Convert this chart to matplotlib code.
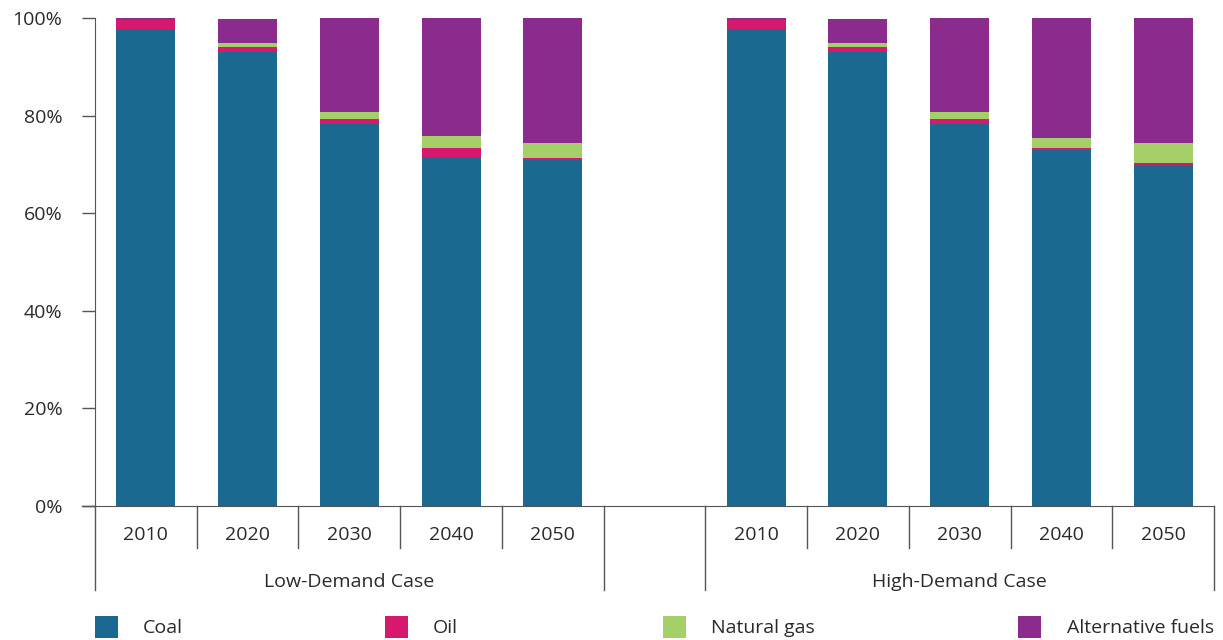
import matplotlib
matplotlib.use("Agg")
import matplotlib.pyplot as plt
import matplotlib.transforms as mtransforms
from matplotlib.patches import Rectangle
import numpy as np

plt.rcParams['font.family'] = ['Open Sans', 'DejaVu Sans']

years = ["2010", "2020", "2030", "2040", "2050"]
groups = ["Low-Demand Case", "High-Demand Case"]
series_names = ["Coal", "Oil", "Natural gas", "Alternative fuels"]
colors = ["#1b6890", "#d7186f", "#a5cf68", "#8c2b8e"]

coal_low = [97.8, 93.0, 78.3, 71.3, 70.9]
oil_low = [1.7, 1.1, 1.0, 2.1, 0.4]
gas_low = [0.0, 0.8, 1.4, 2.4, 3.1]
alt_low = [0.5, 4.9, 19.3, 24.2, 25.6]

coal_high = [97.8, 93.0, 78.3, 73.0, 69.9]
oil_high = [1.7, 1.1, 1.0, 0.4, 0.4]
gas_high = [0.0, 0.8, 1.4, 2.0, 4.1]
alt_high = [0.5, 4.9, 19.3, 24.6, 25.6]

yticks = [0, 20, 40, 60, 80, 100]

text_color = "#2a2a2a"
line_color = "#555555"

fig = plt.figure(figsize=(12.23, 6.4), dpi=100)
ax = fig.add_axes([95/1223, 1-506/640, (1214-95)/1223, 488/640])

low_x = np.arange(5)
high_x = np.arange(5) + 6
data_low = [coal_low, oil_low, gas_low, alt_low]
data_high = [coal_high, oil_high, gas_high, alt_high]
width = 0.58
for xs, data in ((low_x, data_low), (high_x, data_high)):
    bottom = np.zeros(5)
    for vals, c in zip(data, colors):
        v = np.array(vals)
        ax.bar(xs, v, width, bottom=bottom, color=c, linewidth=0)
        bottom += v

ax.set_xlim(-0.5, 10.5)
ax.set_ylim(0, 100)
ax.set_yticks(yticks)
ax.set_yticklabels([f"{t}%" for t in yticks], fontsize=14, color=text_color)
ax.tick_params(axis='y', length=9.4, width=1, color=line_color, pad=14)
ax.set_xticks([])
for s in ("top", "right"):
    ax.spines[s].set_visible(False)
ax.spines["left"].set_color(line_color)
ax.spines["bottom"].set_color(line_color)

trans = mtransforms.blended_transform_factory(ax.transData, ax.transAxes)
# extend x axis line to the left
ax.plot([-0.5 - 13/101.7, -0.5], [0, 0], transform=trans, color=line_color, lw=1, clip_on=False)

long_b = [-0.5, 4.5, 5.5, 10.5]
short_b = [0.5, 1.5, 2.5, 3.5, 6.5, 7.5, 8.5, 9.5]
for b in long_b:
    ax.plot([b, b], [0, -0.172], transform=trans, color=line_color, lw=1, clip_on=False)
for b in short_b:
    ax.plot([b, b], [0, -0.086], transform=trans, color=line_color, lw=1, clip_on=False)

for xs in (low_x, high_x):
    for x, y in zip(xs, years):
        ax.text(x, -0.059, y, transform=trans, ha="center", va="center", fontsize=14, color=text_color)
ax.text(2, -0.156, groups[0], transform=trans, ha="center", va="center", fontsize=14, color=text_color)
ax.text(8, -0.156, groups[1], transform=trans, ha="center", va="center", fontsize=14, color=text_color)

# legend
sq_x = [95, 385, 663, 1018]
txt_x = [143, 433, 711, 1067]
for name, c, sx, tx in zip(series_names, colors, sq_x, txt_x):
    fig.patches.append(Rectangle((sx/1223, 1-638/640), 23/1223, 22/640, transform=fig.transFigure,
                                 facecolor=c, edgecolor="none"))
    fig.text(tx/1223, 1-628/640, name, ha="left", va="center", fontsize=14, color=text_color)

fig.savefig("out.png", dpi=100)
